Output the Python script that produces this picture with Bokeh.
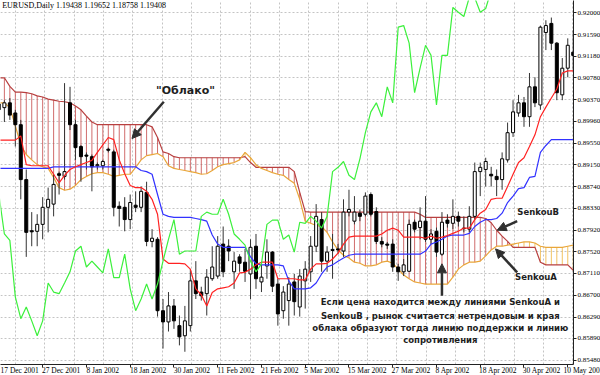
from bokeh.plotting import figure
from bokeh.models import (Range1d, FixedTicker, NumeralTickFormatter, CustomJSTickFormatter,
                          Arrow, NormalHead, Label, ColumnDataSource, AllLabels)
from bokeh.embed import file_html
from bokeh.resources import INLINE
from bokeh.core.properties import value

# ---------------- data ----------------
chart_title = "EURUSD,Daily  1.19438 1.19652 1.18758 1.19408"
date_labels = ["17 Dec 2001", "27 Dec 2001", "8 Jan 2002", "18 Jan 2002", "30 Jan 2002",
               "11 Feb 2002", "21 Feb 2002", "5 Mar 2002", "15 Mar 2002", "27 Mar 2002",
               "8 Apr 2002", "18 Apr 2002", "30 Apr 2002", "10 May 2002"]
date_label_bars = [0.3, 8, 16, 24, 32, 40, 48, 56, 64, 72, 80, 88, 96, 104]
price_ticks = [0.92000, 0.91590, 0.91180, 0.90780, 0.90370, 0.89960, 0.89550, 0.89150,
               0.88740, 0.88330, 0.87920, 0.87520, 0.87110, 0.86700, 0.86290, 0.85890, 0.85480]

opens = [0.9018, 0.9022, 0.9031, 0.9012, 0.8990, 0.8887, 0.8791, 0.8790, 0.8803, 0.8835,
         0.8841, 0.8898, 0.8893, 0.9031, 0.8990, 0.8949, 0.8933, 0.8930, 0.8913, 0.8913,
         0.8944, 0.8939, 0.8837, 0.8835, 0.8812, 0.8839, 0.8835, 0.8863, 0.8771, 0.8775,
         0.8641, 0.8620, 0.8650, 0.8613, 0.8594, 0.8613, 0.8697, 0.8676, 0.8673, 0.8701,
         0.8706, 0.8766, 0.8762, 0.8714, 0.8742, 0.8732, 0.8710, 0.8762, 0.8695, 0.8725,
         0.8751, 0.8691, 0.8641, 0.8660, 0.8695, 0.8648, 0.8697, 0.8714, 0.8762, 0.8812,
         0.8734, 0.8754, 0.8757, 0.8753, 0.8826, 0.8809, 0.8824, 0.8822, 0.8859, 0.8827,
         0.8771, 0.8766, 0.8766, 0.8723, 0.8714, 0.8715, 0.8807, 0.8797, 0.8809, 0.8775,
         0.8790, 0.8747, 0.8811, 0.8805, 0.8818, 0.8796, 0.8794, 0.8818, 0.8902, 0.8906,
         0.8897, 0.8893, 0.8887, 0.8924, 0.8975, 0.9012, 0.9031, 0.9005, 0.9061, 0.9027,
         0.9163, 0.9180, 0.9143, 0.9046, 0.9096, 0.9126]
highs = [0.9036, 0.9036, 0.9040, 0.9018, 0.8999, 0.8906, 0.8826, 0.8822, 0.8854, 0.8872,
         0.8897, 0.8902, 0.9068, 0.9061, 0.8999, 0.8952, 0.8938, 0.8934, 0.8919, 0.8924,
         0.8947, 0.8943, 0.8846, 0.8854, 0.8859, 0.8865, 0.8874, 0.8883, 0.8794, 0.8779,
         0.8663, 0.8676, 0.8663, 0.8632, 0.8650, 0.8719, 0.8734, 0.8686, 0.8719, 0.8762,
         0.8781, 0.8799, 0.8775, 0.8751, 0.8747, 0.8757, 0.8775, 0.8785, 0.8729, 0.8775,
         0.8753, 0.8701, 0.8687, 0.8704, 0.8710, 0.8719, 0.8734, 0.8781, 0.8841, 0.8826,
         0.8762, 0.8785, 0.8766, 0.8850, 0.8868, 0.8856, 0.8831, 0.8863, 0.8863, 0.8835,
         0.8779, 0.8770, 0.8775, 0.8729, 0.8738, 0.8812, 0.8812, 0.8835, 0.8856, 0.8794,
         0.8797, 0.8826, 0.8822, 0.8850, 0.8827, 0.8818, 0.8837, 0.8919, 0.8919, 0.8928,
         0.8911, 0.8906, 0.8938, 0.8994, 0.9036, 0.9046, 0.9042, 0.9087, 0.9079, 0.9176,
         0.9186, 0.9191, 0.9145, 0.9115, 0.9152, 0.9167]
lows = [0.9008, 0.8995, 0.8999, 0.8949, 0.8850, 0.8742, 0.8762, 0.8762, 0.8775, 0.8788,
        0.8818, 0.8859, 0.8887, 0.8980, 0.8924, 0.8883, 0.8906, 0.8865, 0.8906, 0.8906,
        0.8938, 0.8818, 0.8799, 0.8790, 0.8794, 0.8826, 0.8826, 0.8762, 0.8760, 0.8630,
        0.8570, 0.8602, 0.8607, 0.8576, 0.8564, 0.8602, 0.8663, 0.8660, 0.8632, 0.8697,
        0.8701, 0.8704, 0.8734, 0.8682, 0.8714, 0.8695, 0.8663, 0.8682, 0.8676, 0.8701,
        0.8676, 0.8613, 0.8626, 0.8613, 0.8632, 0.8630, 0.8645, 0.8695, 0.8751, 0.8714,
        0.8714, 0.8701, 0.8747, 0.8742, 0.8818, 0.8803, 0.8809, 0.8818, 0.8818, 0.8766,
        0.8760, 0.8757, 0.8714, 0.8697, 0.8706, 0.8714, 0.8788, 0.8775, 0.8770, 0.8766,
        0.8742, 0.8744, 0.8797, 0.8794, 0.8799, 0.8788, 0.8788, 0.8812, 0.8856, 0.8874,
        0.8874, 0.8856, 0.8868, 0.8919, 0.8967, 0.9005, 0.8986, 0.8986, 0.9023, 0.9018,
        0.9130, 0.9130, 0.9036, 0.9036, 0.9079, 0.9092]
closes = [0.9029, 0.9031, 0.9008, 0.8990, 0.8887, 0.8788, 0.8789, 0.8803, 0.8835, 0.8850,
          0.8878, 0.8895, 0.8902, 0.8990, 0.8947, 0.8930, 0.8931, 0.8911, 0.8915, 0.8921,
          0.8942, 0.8835, 0.8833, 0.8812, 0.8844, 0.8835, 0.8865, 0.8771, 0.8777, 0.8641,
          0.8620, 0.8650, 0.8622, 0.8592, 0.8622, 0.8697, 0.8673, 0.8669, 0.8704, 0.8723,
          0.8762, 0.8714, 0.8753, 0.8734, 0.8730, 0.8715, 0.8760, 0.8701, 0.8704, 0.8751,
          0.8687, 0.8635, 0.8676, 0.8691, 0.8658, 0.8706, 0.8719, 0.8762, 0.8818, 0.8734,
          0.8751, 0.8756, 0.8755, 0.8826, 0.8831, 0.8826, 0.8818, 0.8856, 0.8822, 0.8771,
          0.8766, 0.8764, 0.8723, 0.8714, 0.8727, 0.8803, 0.8794, 0.8809, 0.8775, 0.8785,
          0.8751, 0.8807, 0.8805, 0.8818, 0.8809, 0.8795, 0.8818, 0.8902, 0.8910, 0.8921,
          0.8894, 0.8887, 0.8926, 0.8975, 0.9014, 0.9031, 0.9005, 0.9061, 0.9031, 0.9173,
          0.9176, 0.9143, 0.9050, 0.9096, 0.9139, 0.9120]

tenkan = [0.8961, 0.8961, 0.8961, 0.8961, 0.8969, 0.8915, 0.8913, 0.8913, 0.8913, 0.8913,
          0.8897, 0.8881, 0.8895, 0.8906, 0.8911, 0.8915, 0.8919, 0.8923, 0.8938, 0.8952,
          0.8966, 0.8962, 0.8924, 0.8898, 0.8876, 0.8872, 0.8872, 0.8865, 0.8850, 0.8822,
          0.8738, 0.8730, 0.8730, 0.8730, 0.8729, 0.8719, 0.8682, 0.8671, 0.8650, 0.8675,
          0.8682, 0.8684, 0.8686, 0.8693, 0.8712, 0.8713, 0.8719, 0.8727, 0.8732, 0.8732,
          0.8732, 0.8701, 0.8701, 0.8701, 0.8701, 0.8699, 0.8699, 0.8719, 0.8729, 0.8729,
          0.8730, 0.8738, 0.8749, 0.8766, 0.8779, 0.8781, 0.8781, 0.8781, 0.8781, 0.8781,
          0.8785, 0.8792, 0.8796, 0.8792, 0.8779, 0.8779, 0.8779, 0.8779, 0.8777, 0.8781,
          0.8777, 0.8779, 0.8782, 0.8786, 0.8790, 0.8796, 0.8796, 0.8812, 0.8824, 0.8831,
          0.8850, 0.8852, 0.8852, 0.8874, 0.8897, 0.8919, 0.8928, 0.8949, 0.8971, 0.9005,
          0.9023, 0.9040, 0.9057, 0.9087, 0.9091, 0.9091]
kijun = [0.8908, 0.8908, 0.8908, 0.8908, 0.8908, 0.8908, 0.8908, 0.8908, 0.8908, 0.8908,
         0.8911, 0.8911, 0.8911, 0.8911, 0.8911, 0.8911, 0.8911, 0.8911, 0.8911, 0.8911,
         0.8911, 0.8911, 0.8911, 0.8911, 0.8911, 0.8911, 0.8904, 0.8902, 0.8897, 0.8859,
         0.8822, 0.8818, 0.8816, 0.8816, 0.8816, 0.8816, 0.8814, 0.8812, 0.8809, 0.8783,
         0.8766, 0.8760, 0.8760, 0.8760, 0.8760, 0.8760, 0.8742, 0.8729, 0.8727, 0.8727,
         0.8727, 0.8727, 0.8725, 0.8697, 0.8682, 0.8682, 0.8682, 0.8684, 0.8693, 0.8710,
         0.8723, 0.8727, 0.8734, 0.8740, 0.8745, 0.8747, 0.8747, 0.8747, 0.8747, 0.8747,
         0.8747, 0.8747, 0.8747, 0.8747, 0.8747, 0.8747, 0.8747, 0.8747, 0.8753, 0.8766,
         0.8770, 0.8775, 0.8781, 0.8783, 0.8783, 0.8783, 0.8786, 0.8799, 0.8807, 0.8812,
         0.8812, 0.8814, 0.8824, 0.8844, 0.8856, 0.8870, 0.8872, 0.8891, 0.8893, 0.8938,
         0.8951, 0.8962, 0.8962, 0.8962, 0.8962, 0.8962]
chikou = [0.8859, 0.8785, 0.8773, 0.8667, 0.8626, 0.8648, 0.8622, 0.8594, 0.8622, 0.8693,
          0.8676, 0.8673, 0.8693, 0.8714, 0.8753, 0.8762, 0.8723, 0.8734, 0.8723, 0.8712,
          0.8757, 0.8703, 0.8703, 0.8747, 0.8682, 0.8641, 0.8663, 0.8691, 0.8663, 0.8691,
          0.8734, 0.8775, 0.8812, 0.8747, 0.8753, 0.8753, 0.8753, 0.8818, 0.8826, 0.8822,
          0.8822, 0.8850, 0.8822, 0.8785, 0.8775, 0.8764, 0.8734, 0.8714, 0.8729, 0.8803,
          0.8811, 0.8811, 0.8775, 0.8783, 0.8751, 0.8807, 0.8805, 0.8818, 0.8809, 0.8796,
          0.8818, 0.8902, 0.8910, 0.8921, 0.8895, 0.8887, 0.8926, 0.8975, 0.9014, 0.9031,
          0.9005, 0.9061, 0.9031, 0.9173, 0.9176, 0.9143, 0.9050, 0.9096, 0.9139, 0.9120,
          0.9027, 0.9120, 0.9120, 0.9210, 0.9201, 0.9193, 0.9229, 0.9228, 0.9201, 0.9208,
          0.9242, 0.9251]
senkou_a = [0.9031, 0.9031, 0.9022, 0.8988, 0.8952, 0.8934, 0.8924, 0.8915, 0.8911, 0.8908,
            0.8891, 0.8872, 0.8867, 0.8869, 0.8876, 0.8887, 0.8893, 0.8898, 0.8900, 0.8900,
            0.8897, 0.8893, 0.8895, 0.8897, 0.8897, 0.8910, 0.8924, 0.8932, 0.8934, 0.8936,
            0.8930, 0.8913, 0.8908, 0.8906, 0.8904, 0.8902, 0.8900, 0.8897, 0.8898, 0.8904,
            0.8911, 0.8915, 0.8917, 0.8919, 0.8924, 0.8938, 0.8928, 0.8915, 0.8908, 0.8904,
            0.8900, 0.8897, 0.8895, 0.8887, 0.8880, 0.8850, 0.8809, 0.8805, 0.8801, 0.8799,
            0.8788, 0.8770, 0.8755, 0.8745, 0.8740, 0.8732, 0.8730, 0.8725, 0.8725, 0.8727,
            0.8732, 0.8734, 0.8730, 0.8719, 0.8708, 0.8701, 0.8695, 0.8693, 0.8691, 0.8691,
            0.8691, 0.8691, 0.8691, 0.8704, 0.8719, 0.8727, 0.8732, 0.8732, 0.8734, 0.8744,
            0.8755, 0.8762, 0.8762, 0.8764, 0.8766, 0.8768, 0.8770, 0.8770, 0.8768, 0.8762,
            0.8760, 0.8760, 0.8760, 0.8760, 0.8762, 0.8764]
senkou_b = [0.9078, 0.9078, 0.9062, 0.9051, 0.9051, 0.9050, 0.9048, 0.9044, 0.9042, 0.9038,
            0.9036, 0.9034, 0.9033, 0.9031, 0.9025, 0.9018, 0.9006, 0.8995, 0.8990, 0.8990,
            0.8990, 0.8990, 0.8990, 0.8990, 0.8990, 0.8990, 0.8990, 0.8990, 0.8986, 0.8966,
            0.8939, 0.8936, 0.8930, 0.8928, 0.8928, 0.8928, 0.8928, 0.8928, 0.8928, 0.8928,
            0.8928, 0.8928, 0.8928, 0.8928, 0.8928, 0.8930, 0.8919, 0.8910, 0.8910, 0.8910,
            0.8910, 0.8910, 0.8910, 0.8910, 0.8902, 0.8863, 0.8827, 0.8826, 0.8826, 0.8826,
            0.8826, 0.8826, 0.8826, 0.8826, 0.8826, 0.8826, 0.8826, 0.8826, 0.8826, 0.8826,
            0.8826, 0.8826, 0.8826, 0.8826, 0.8826, 0.8826, 0.8826, 0.8822, 0.8816, 0.8816,
            0.8816, 0.8816, 0.8816, 0.8816, 0.8816, 0.8816, 0.8816, 0.8816, 0.8816, 0.8814,
            0.8806, 0.8792, 0.8781, 0.8771, 0.8760, 0.8760, 0.8760, 0.8760, 0.8760, 0.8732,
            0.8727, 0.8727, 0.8727, 0.8727, 0.8727, 0.8717]

cloud_label = '"Облако"'
senkou_b_label = "SenkouB"
senkou_a_label = "SenkouA"
note_lines = ["Если цена находится между линиями SenkouA и",
              "SenkouB , рынок считается нетрендовым и края",
              "облака образуют тогда линию поддержки и линию",
              "сопротивления"]

# ---------------- styling ----------------
AX_FONT = "Liberation Sans Narrow"
DATE_PX = 7.5
ANN_FONT = "DejaVu Sans"
ANN_COLOR = "#1E1E1E"
ARROW_COLOR = "#303030"
AXIS_COLOR = "#222222"
BAR_PX = 5.47   # pixels per bar at this frame size

n = len(opens)
bars = list(range(n))

p = figure(width=600, height=375, frame_width=573, frame_height=364,
           x_range=Range1d(0.29, 105.05), y_range=Range1d(0.85401, 0.92230),
           y_axis_location="right", output_backend="svg", toolbar_location=None,
           min_border_left=0, min_border_top=0, min_border_right=0, min_border_bottom=0)
p.outline_line_color = None
p.background_fill_color = "white"
p.border_fill_color = "white"

ya = p.yaxis[0]
ya.ticker = FixedTicker(ticks=price_ticks)
ya.formatter = NumeralTickFormatter(format="0.00000")
ya.major_label_policy = AllLabels()
ya.major_label_text_font = AX_FONT
ya.major_label_text_font_size = "7px"
ya.major_label_text_color = "black"
ya.major_tick_out = 3
ya.major_tick_in = 0
ya.minor_tick_out = 0
ya.minor_tick_in = 0
ya.major_label_standoff = 1
ya.axis_line_color = AXIS_COLOR
ya.major_tick_line_color = AXIS_COLOR

# date labels: MT4 draws them starting at their bar; place each tick at the label centre
ARIAL_EM = {" ": 0.278, "D": 0.722, "e": 0.556, "c": 0.5, "J": 0.5, "a": 0.556, "n": 0.556,
            "F": 0.611, "b": 0.556, "M": 0.833, "r": 0.333, "A": 0.667, "p": 0.556, "y": 0.5}


def label_px(label):
    return sum(ARIAL_EM.get(ch, 0.556) for ch in label) * 0.82 * DATE_PX


tick_pos = [date_label_bars[0]]
tick_txt = [date_labels[0]]
for b, lbl in zip(date_label_bars[1:-1], date_labels[1:-1]):
    tick_pos.append(b + (1.0 + 0.5 * label_px(lbl)) / BAR_PX)
    tick_txt.append(lbl)
# the last label runs past the frame: pad it so it is pushed against the page edge
tick_pos.append(date_label_bars[-1])
tick_txt.append("\u00a0" * 30 + date_labels[-1])

xa = p.xaxis[0]
xa.ticker = FixedTicker(ticks=tick_pos, minor_ticks=date_label_bars[1:])
xa.formatter = CustomJSTickFormatter(args=dict(labels=tick_txt), code="return labels[index];")
xa.major_label_policy = AllLabels()
xa.major_label_text_font = AX_FONT
xa.major_label_text_font_size = f"{DATE_PX}px"
xa.major_label_text_color = "black"
xa.major_label_standoff = -2
xa.axis_line_color = AXIS_COLOR
xa.major_tick_out = 0
xa.major_tick_in = 0
xa.minor_tick_out = 3
xa.minor_tick_in = 0
xa.minor_tick_line_color = AXIS_COLOR

p.xgrid[0].ticker = FixedTicker(ticks=[3.03 + 5.362 * k for k in range(20)])
for g in (p.xgrid[0], p.ygrid[0]):
    g.grid_line_color = "#C4C4C4"
    g.grid_line_dash = "2 2"
    g.grid_line_width = 1
    g.minor_grid_line_color = None

# cloud hatch
hatch_colors = ["#C85252" if b >= a else "#F0B848" for a, b in zip(senkou_a, senkou_b)]
p.segment(x0=bars, y0=senkou_a, x1=bars, y1=senkou_b, line_color=hatch_colors,
          line_width=1, line_alpha=0.85)
p.line(bars, senkou_b, line_color="#B84040", line_width=1.2)
p.line(bars, senkou_a, line_color="#E9A63A", line_width=1.2)

# candles
body_top = [max(o, c) for o, c in zip(opens, closes)]
body_bot = [min(o, c) for o, c in zip(opens, closes)]
fills = ["white" if c > o else "black" for o, c in zip(opens, closes)]
p.segment(x0=bars, y0=lows, x1=bars, y1=highs, line_color="#333333", line_width=1)
p.vbar(x=bars, width=0.55, top=body_top, bottom=body_bot, fill_color=fills,
       line_color="black", line_width=1)

# ichimoku lines
p.line(bars, kijun, line_color="#3232FF", line_width=1.2)
p.line(bars, tenkan, line_color="#FF2222", line_width=1.2)
p.line(bars[:len(chikou)], chikou, line_color="#3CF03C", line_width=1.2)

# title
p.add_layout(Label(x=0.6, y=0.9222, text=chart_title, text_font=AX_FONT,
                   text_font_size="8px", text_color="black", text_baseline="top"))

# annotations
txt = ColumnDataSource(dict(
    x=[34.1, 98.6, 98.2, 80.7, 80.7, 80.7, 80.7],
    y=[0.9054, 0.8826, 0.8705, 0.8657, 0.8632, 0.8609, 0.8587],
    t=[cloud_label, senkou_b_label, senkou_a_label] + note_lines,
    s=["11px", "8.5px", "8.5px", "8.5px", "8.5px", "8.5px", "8.5px"]))
p.text(x="x", y="y", text="t", source=txt, text_font=value(ANN_FONT),
       text_font_style="bold", text_font_size="s", text_color=ANN_COLOR,
       text_align="center", text_baseline="middle")

arrows = [(30.15, 0.9033, 24.33, 0.8964),
          (94.75, 0.8809, 91.1, 0.8792),
          (94.75, 0.8713, 90.8, 0.8757),
          (81.0, 0.8669, 81.0, 0.8729)]
for xs, ys, xe, ye in arrows:
    p.add_layout(Arrow(end=NormalHead(size=9, fill_color=ARROW_COLOR, line_color=ARROW_COLOR),
                       x_start=xs, y_start=ys, x_end=xe, y_end=ye,
                       line_color=ARROW_COLOR, line_width=2.5))

open("out.html", "w").write(file_html(p, INLINE))
